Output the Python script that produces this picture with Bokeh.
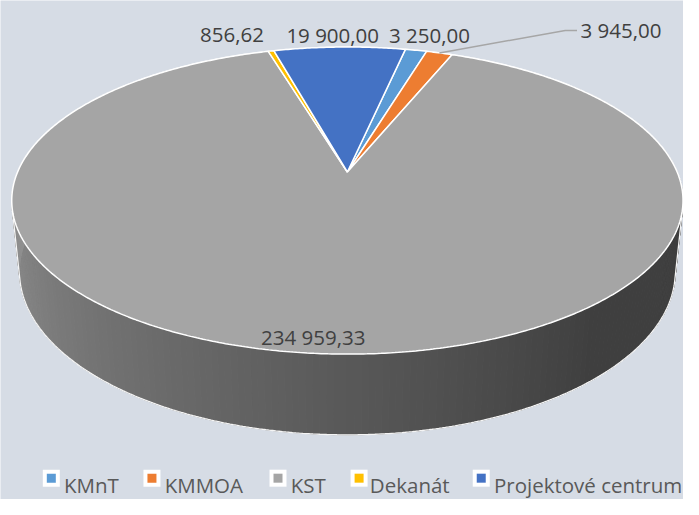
import numpy as np
from bokeh.plotting import figure
from bokeh.models import Range1d, ColumnDataSource
from bokeh.embed import file_html
from bokeh.resources import INLINE
from bokeh.core.properties import value

# ---------------- data ----------------
categories = ["KMnT", "KMMOA", "KST", "Dekanát", "Projektové centrum"]
amounts = [3250.00, 3945.00, 234959.33, 856.62, 19900.00]
colors = ["#5B9BD5", "#ED7D31", "#A5A5A5", "#FFC000", "#4472C4"]
first_slice_angle = 12.0  # degrees, clockwise from 12 o'clock

# ---------------- layout / style ----------------
BG = "#D6DCE5"
cx, cy = 355.0, 177.0     # pie centre (chart units)
A, B = 337.5, 153.0       # horizontal / vertical radius scale
K = 0.186                 # perspective strength
G = 0.0229                # extra depth of the bottom face
T = 74.0                  # thickness of the pie
FONT = "Open Sans"
FS = "20.5px"

# label anchors (centre x, baseline y) per category
label_pos = [(439, 36), (635, 30), (320, 347), (237, 36), (340, 36)]
leader_bend = [(578, 31), (590, 31)]
legend_marker_x = [52, 155, 284, 367, 492]
legend_text_x = [65, 168, 297, 378, 505]
legend_y = 493


def proj(theta_deg, bottom=False):
    t = np.radians(np.asarray(theta_deg, dtype=float))
    s, c = np.sin(t), np.cos(t)
    depth = 1.0 + (G if bottom else 0.0) - K * s
    x = cx + A * c / depth
    y = cy + ((T if bottom else 0.0) + B * s) / depth
    return x, y


def fmt(v):
    return f"{v:,.2f}".replace(",", " ").replace(".", ",")


total = float(np.sum(amounts))
spans = np.array(amounts) / total * 360.0
starts = first_slice_angle + np.concatenate([[0.0], np.cumsum(spans)[:-1]])
ends = starts + spans

p = figure(width=683, height=499, x_range=Range1d(0, 699), y_range=Range1d(515, 0),
           output_backend="svg", toolbar_location=None, min_border=0,
           background_fill_color=BG, border_fill_color=BG, outline_line_color=None,
           x_axis_location=None, y_axis_location=None)
p.grid.visible = False

# ---------------- side wall (gradient strips) ----------------
step = 1.0
th = np.arange(-40.0, 220.0, step)
xs, ys, cols = [], [], []
for a in th:
    xt0, yt0 = proj(a)
    xt1, yt1 = proj(a + step)
    xb0, yb0 = proj(a, True)
    xb1, yb1 = proj(a + step, True)
    xs.append([xt0, xt1, xb1, xb0])
    ys.append([yt0, yt1, yb1, yb0])
    lum = int(round(np.interp(a + step / 2, [50, 180], [63, 146])))
    cols.append("#%02x%02x%02x" % (lum, lum, lum))
side_src = ColumnDataSource(dict(xs=xs, ys=ys, c=cols))
p.patches("xs", "ys", source=side_src, fill_color="c", line_color="c", line_width=1)

# ---------------- outer silhouette line ----------------
full = np.arange(0, 360, 0.5)
tx, ty = proj(full)
bx, by = proj(full, True)
pts = np.column_stack([np.concatenate([tx, bx]), np.concatenate([ty, by])])
pts = pts[np.lexsort((pts[:, 1], pts[:, 0]))]


def cross(o, a, b):
    return (a[0] - o[0]) * (b[1] - o[1]) - (a[1] - o[1]) * (b[0] - o[0])


lower, upper = [], []
for pt in pts:
    while len(lower) >= 2 and cross(lower[-2], lower[-1], pt) <= 0:
        lower.pop()
    lower.append(tuple(pt))
for pt in pts[::-1]:
    while len(upper) >= 2 and cross(upper[-2], upper[-1], pt) <= 0:
        upper.pop()
    upper.append(tuple(pt))
hull = lower[:-1] + upper[:-1]
hull.append(hull[0])
p.line([h[0] for h in hull], [h[1] for h in hull], line_color="#F4F4F4", line_width=1.3)

# ---------------- top face slices ----------------
sx, sy = [], []
for a0, a1 in zip(starts, ends):
    n = max(3, int(np.ceil((a1 - a0) / 0.5)) + 1)
    ang = np.linspace(a0, a1, n) - 90.0
    x, y = proj(ang)
    sx.append([cx] + list(x))
    sy.append([cy] + list(y))
top_src = ColumnDataSource(dict(xs=sx, ys=sy, c=colors))
p.patches("xs", "ys", source=top_src, fill_color="c", line_color="white", line_width=1.5)

# ---------------- data labels ----------------
label_text = [fmt(v) for v in amounts]
lab_src = ColumnDataSource(dict(x=[q[0] for q in label_pos], y=[q[1] for q in label_pos], t=label_text))
p.text("x", "y", text="t", source=lab_src, text_font=value(FONT), text_font_size=FS,
       text_color="#404040", text_align="center", text_baseline="alphabetic")

# leader line for KMMOA
mid = (starts[1] + ends[1]) / 2.0 - 90.0
lx0, ly0 = proj(mid)
p.line([float(lx0)] + [b[0] for b in leader_bend], [float(ly0)] + [b[1] for b in leader_bend],
       line_color="#A6A6A6", line_width=1.5)

# ---------------- legend ----------------
p.scatter(legend_marker_x, [legend_y] * 5, marker="square", size=17, fill_color="white",
          line_color=None)
p.scatter(legend_marker_x, [legend_y] * 5, marker="square", size=9, fill_color=colors,
          line_color=None)
p.text(legend_text_x, [legend_y + 7] * 5, text=categories, text_font=value(FONT),
       text_font_size=FS, text_color="#595959", text_align="left",
       text_baseline="alphabetic")

open("out.html", "w").write(file_html(p, INLINE))
